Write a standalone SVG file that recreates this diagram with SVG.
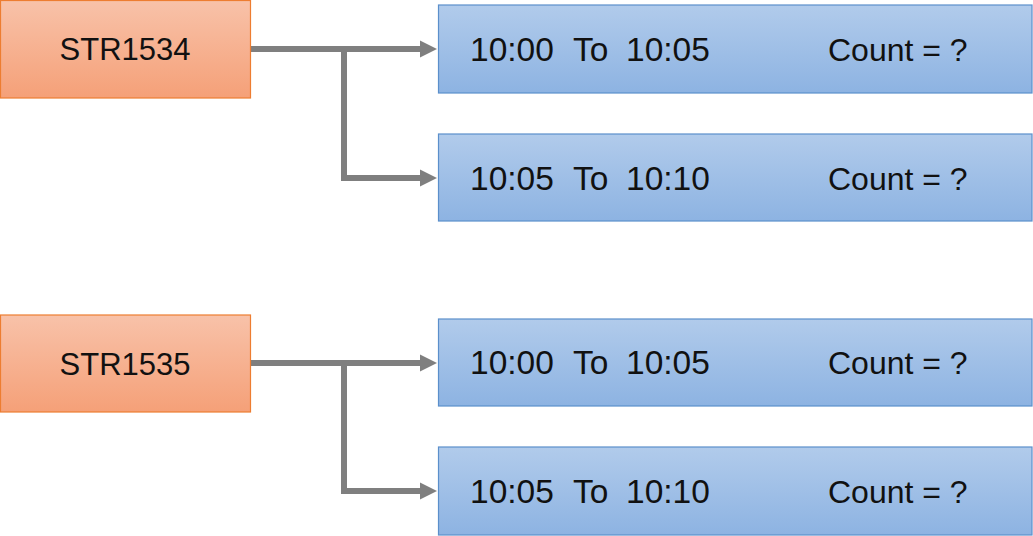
<svg xmlns="http://www.w3.org/2000/svg" width="1033" height="536" viewBox="0 0 1033 536">
<defs>
<linearGradient id="gO" x1="0" y1="0" x2="0" y2="1"><stop offset="0" stop-color="#f8c2a9"/><stop offset="1" stop-color="#f5a078"/></linearGradient>
<linearGradient id="gB" x1="0" y1="0" x2="0" y2="1"><stop offset="0" stop-color="#b1cbeb"/><stop offset="1" stop-color="#8db3e2"/></linearGradient>
<marker id="ah" markerUnits="userSpaceOnUse" markerWidth="18" markerHeight="18" refX="5" refY="9" orient="auto"><path d="M0,0.5 L17,9 L0,17.5 Z" fill="#7f7f7f"/></marker>
<style>
.o{fill:url(#gO);stroke:#ed7d31;stroke-width:1.2}
.b{fill:url(#gB);stroke:#5b8fcb;stroke-width:1.2}
text{font-family:"Liberation Sans",Arial,sans-serif;font-size:32px;fill:#111}
.t{font-size:33.5px}
.s{font-size:31px}
.c{fill:none;stroke:#7f7f7f;stroke-width:6}
</style>
</defs>
<g id="connectors">
<path class="c" d="M250,49 H425" marker-end="url(#ah)"/>
<path class="c" d="M344,49 V178 H425" marker-end="url(#ah)"/>
<path class="c" d="M250,363 H425" marker-end="url(#ah)"/>
<path class="c" d="M344,363 V491 H425" marker-end="url(#ah)"/>
</g>
<g id="str1534"><rect class="o" x="0.5" y="0.5" width="250" height="97.5"/><text class="s" x="125" y="60" text-anchor="middle">STR1534</text></g>
<g id="str1535"><rect class="o" x="0.5" y="315" width="250" height="97"/><text class="s" x="125" y="375" text-anchor="middle">STR1535</text></g>
<g id="b1"><rect class="b" x="438.5" y="5" width="593.5" height="88"/><text y="61"><tspan class="t" x="470">10:00</tspan><tspan class="t" x="573">To</tspan><tspan class="t" x="626">10:05</tspan><tspan x="828">Count = ?</tspan></text></g>
<g id="b2"><rect class="b" x="438.5" y="134" width="593.5" height="87"/><text y="190"><tspan class="t" x="470">10:05</tspan><tspan class="t" x="573">To</tspan><tspan class="t" x="626">10:10</tspan><tspan x="828">Count = ?</tspan></text></g>
<g id="b3"><rect class="b" x="438.5" y="319" width="593.5" height="87"/><text y="374"><tspan class="t" x="470">10:00</tspan><tspan class="t" x="573">To</tspan><tspan class="t" x="626">10:05</tspan><tspan x="828">Count = ?</tspan></text></g>
<g id="b4"><rect class="b" x="438.5" y="447" width="593.5" height="88"/><text y="503"><tspan class="t" x="470">10:05</tspan><tspan class="t" x="573">To</tspan><tspan class="t" x="626">10:10</tspan><tspan x="828">Count = ?</tspan></text></g>
</svg>
